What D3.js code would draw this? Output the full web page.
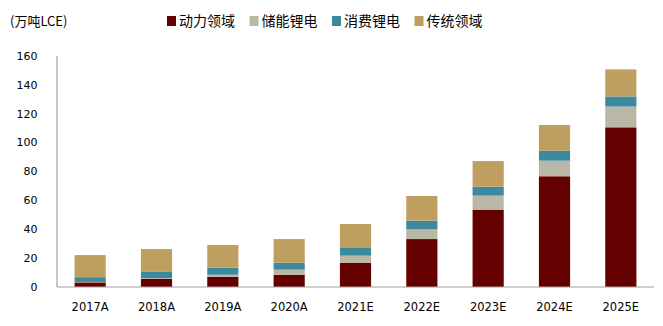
<!DOCTYPE html>
<html><head><meta charset="utf-8">
<script src="https://cdn.jsdelivr.net/npm/d3@7"></script>
<style>body{margin:0;background:#fff}svg{display:block}</style>
</head><body><svg id="c" width="663" height="326"></svg>
<script>
const categories = ["2017A","2018A","2019A","2020A","2021E","2022E","2023E","2024E","2025E"];
const seriesNames = ["动力领域","储能锂电","消费锂电","传统领域"];
const power       = [3.2, 5.7, 7.1, 8.5, 16.8, 33.2, 53.6, 76.7, 110.6];
const storage     = [0.3, 0.5, 1.4, 3.5, 4.9, 6.7, 9.7, 10.8, 14.4];
const consumer    = [3.3, 4.6, 4.9, 4.8, 5.8, 6.0, 6.2, 6.9, 7.0];
const traditional = [15.3, 15.5, 15.7, 16.4, 16.1, 17.1, 17.7, 17.8, 18.7];
const yTicks = [0,20,40,60,80,100,120,140,160];
const unitLabel = "(万吨LCE)";
const colors = ["#640000","#B9B8A7","#3D8A9F","#BF9F5F"];

const svg = d3.select("#c");
const x = d3.scaleBand().domain(categories).range([57,654]).paddingInner(0.53).paddingOuter(0.265);
const y = d3.scaleLinear().domain([0,160]).range([287,56]);

const rows = categories.map((c,i)=>({cat:c, s0:power[i], s1:storage[i], s2:consumer[i], s3:traditional[i]}));
const stack = d3.stack().keys(["s0","s1","s2","s3"])(rows);

svg.append("g").selectAll("g").data(stack).join("g")
  .attr("fill",(d,i)=>colors[i])
  .selectAll("rect").data(d=>d).join("rect")
  .attr("x",d=>x(d.data.cat))
  .attr("width",x.bandwidth())
  .attr("y",d=>y(d[1]))
  .attr("height",d=>Math.max(0,y(d[0])-y(d[1])));

// axes
const ax = svg.append("g").attr("stroke","#A0A0A0").attr("stroke-width",1.2);
ax.append("line").attr("x1",57).attr("x2",57).attr("y1",y(160)).attr("y2",y(0));
ax.append("line").attr("x1",57).attr("x2",654).attr("y1",y(0)).attr("y2",y(0));

const font = "'DejaVu Sans', sans-serif";
svg.append("g").selectAll("text").data(yTicks).join("text")
  .attr("x",37.5).attr("y",d=>y(d)).attr("dy","0.35em")
  .attr("text-anchor","end").attr("font-family",font).attr("font-size",11)
  .attr("fill","#000").text(d=>d);

svg.append("g").selectAll("text").data(categories).join("text")
  .attr("x",d=>x(d)+x.bandwidth()/2).attr("y",306.5).attr("dy","0.35em")
  .attr("text-anchor","middle").attr("font-family",font).attr("font-size",11.5)
  .attr("fill","#000").text(d=>d);

svg.append("text").attr("x",10).attr("y",21).attr("dy","0.35em")
  .attr("font-family","'Noto Sans CJK SC', sans-serif").attr("font-size",13)
  .attr("fill","#000").text(unitLabel);

const lg = svg.append("g").selectAll("g").data(seriesNames).join("g")
  .attr("transform",(d,i)=>`translate(${167+i*82.5},21)`);
lg.append("rect").attr("x",0).attr("y",-5).attr("width",9).attr("height",10)
  .attr("fill",(d,i)=>colors[i]);
lg.append("text").attr("x",12).attr("y",0).attr("dy","0.35em")
  .attr("font-family","'Noto Sans CJK SC', sans-serif").attr("font-size",14)
  .attr("fill","#000").text(d=>d);
</script></body></html>
